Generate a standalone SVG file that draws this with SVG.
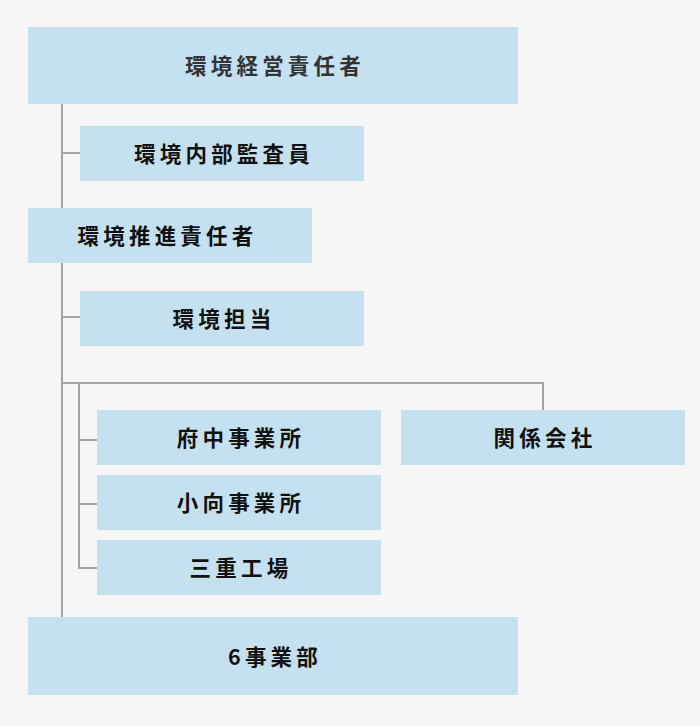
<svg xmlns="http://www.w3.org/2000/svg" width="700" height="726" viewBox="0 0 700 726">
<style>
.box{fill:#c5e1ef}
.t{font-family:"Noto Sans CJK JP","Noto Sans CJK SC",sans-serif;font-weight:bold;font-size:21.5px;letter-spacing:4.2px;fill:#111;text-anchor:middle;dominant-baseline:central}
.t0{fill:#333}
.ln{stroke:#a4a4a8;stroke-width:2;fill:none}
</style>
<rect width="700" height="726" fill="#f6f6f6"/>
<g id="connectors">
<path class="ln" d="M62,104V617"/>
<path class="ln" d="M62,153H80"/>
<path class="ln" d="M62,317H80"/>
<path class="ln" d="M62,383H543V410"/>
<path class="ln" d="M79,383V568H97"/>
<path class="ln" d="M79,440H97"/>
<path class="ln" d="M79,504H97"/>
</g>
<g id="n1"><rect class="box" x="28" y="27" width="490" height="77"/><text class="t t0" x="275" y="64">環境経営責任者</text></g>
<g id="n2"><rect class="box" x="80" y="126" width="284" height="55"/><text class="t" x="224" y="152">環境内部監査員</text></g>
<g id="n3"><rect class="box" x="28" y="208" width="284" height="55"/><text class="t" x="167.5" y="234">環境推進責任者</text></g>
<g id="n4"><rect class="box" x="80" y="291" width="284" height="55"/><text class="t" x="224" y="317">環境担当</text></g>
<g id="n5"><rect class="box" x="97" y="410" width="284" height="55"/><text class="t" x="241" y="436">府中事業所</text></g>
<g id="n6"><rect class="box" x="401" y="410" width="284" height="55"/><text class="t" x="545" y="436">関係会社</text></g>
<g id="n7"><rect class="box" x="97" y="475" width="284" height="55"/><text class="t" x="241" y="501">小向事業所</text></g>
<g id="n8"><rect class="box" x="97" y="540" width="284" height="55"/><text class="t" x="241" y="566">三重工場</text></g>
<g id="n9"><rect class="box" x="28" y="617" width="490" height="78"/><text class="t" x="275" y="655">6事業部</text></g>
</svg>
